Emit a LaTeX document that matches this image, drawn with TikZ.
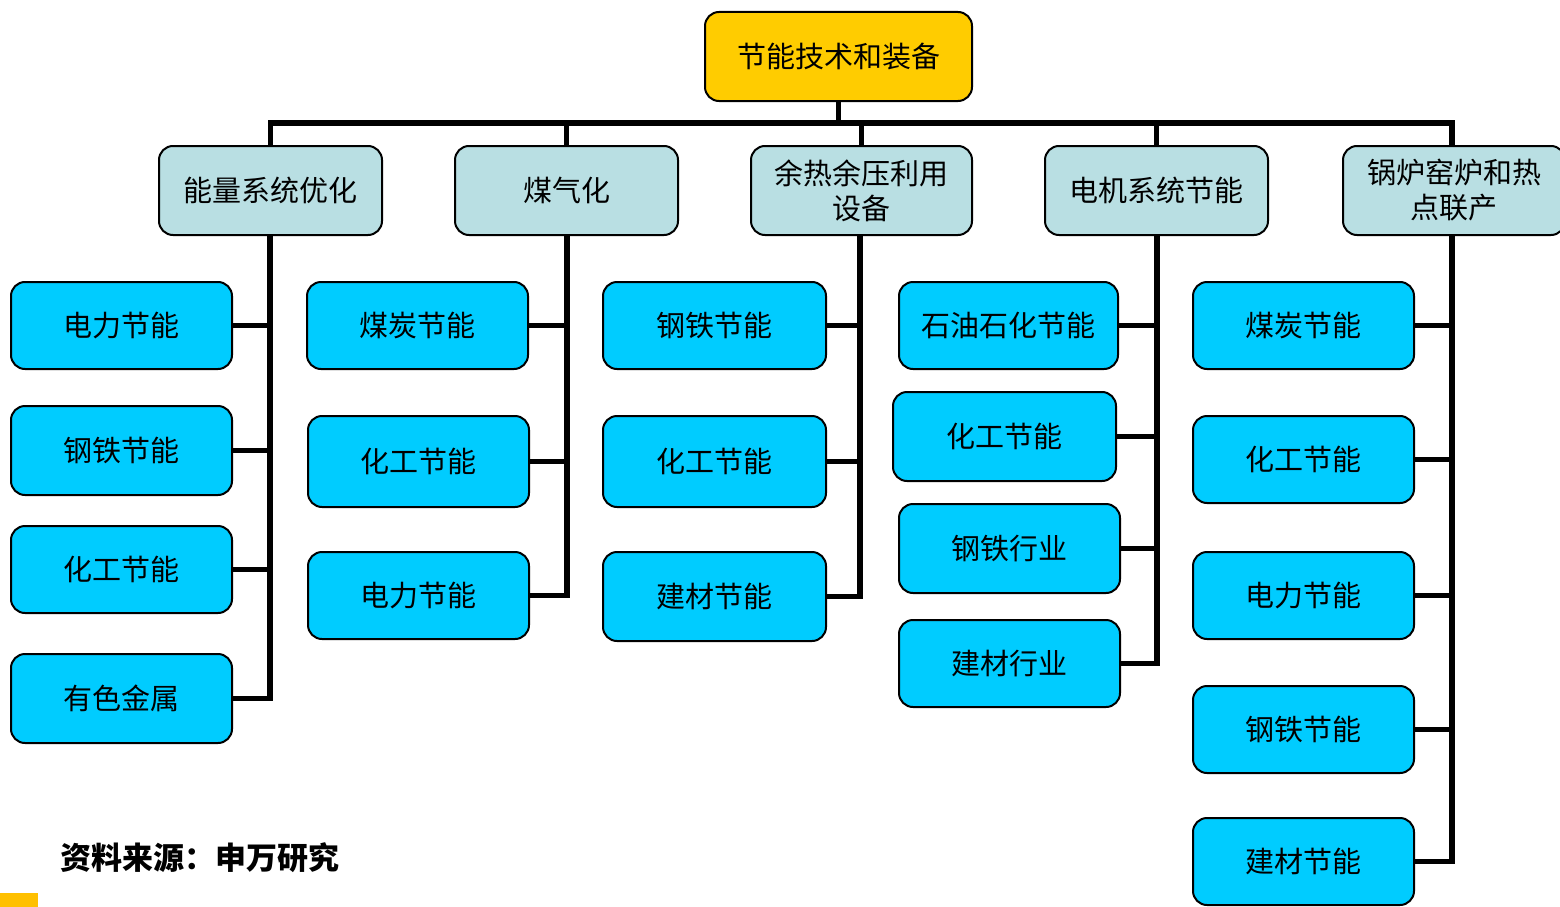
\documentclass[tikz,border=0pt]{standalone}
\usepackage{fontspec}
\setmainfont{Noto Sans CJK SC}
\definecolor{topY}{HTML}{FFCC00}
\definecolor{lvB}{HTML}{B9DFE3}
\definecolor{lvC}{HTML}{00CCFF}
\definecolor{srcY}{HTML}{FFC000}
\begin{document}
\begin{tikzpicture}[x=1pt,y=1pt,
  box/.style={draw=black,line width=2pt,rounded corners=14pt,inner sep=0pt,
    font=\fontsize{29}{35}\selectfont,align=center,text=black},
  topbox/.style={box,fill=topY,minimum width=267pt,minimum height=89pt},
  lvtwo/.style={box,fill=lvB,minimum width=223pt,minimum height=89pt},
  lvthree/.style={box,fill=lvC,minimum width=221pt,minimum height=87pt},
  bus/.style={draw=black,line width=5.5pt,line join=miter}]
\useasboundingbox (0,0) rectangle (1560,-907);
% top
\node[topbox] (top) at (838.5,-56.5) {节能技术和装备};
% level 2
\node[lvtwo] (a) at (270.5,-190.5) {能量系统优化};
\node[lvtwo] (b) at (566.5,-190.5) {煤气化};
\node[lvtwo,minimum width=221pt] (c) at (861.5,-190.5) {余热余压利用\\设备};
\node[lvtwo] (d) at (1156.5,-190.5) {电机系统节能};
\node[lvtwo,minimum width=222pt] (e) at (1454,-190.5) {锅炉窑炉和热\\点联产};
% column 1
\node[lvthree] (a1) at (121.5,-325.5) {电力节能};
\node[lvthree,minimum height=89pt] (a2) at (121.5,-450.5) {钢铁节能};
\node[lvthree] (a3) at (121.5,-569.5) {化工节能};
\node[lvthree,minimum height=89pt] (a4) at (121.5,-698.5) {有色金属};
% column 2
\node[lvthree] (b1) at (417.5,-325.5) {煤炭节能};
\node[lvthree,minimum height=91pt] (b2) at (418.5,-461.5) {化工节能};
\node[lvthree] (b3) at (418.5,-595.5) {电力节能};
% column 3
\node[lvthree,minimum width=223pt] (c1) at (714.5,-325.5) {钢铁节能};
\node[lvthree,minimum width=223pt,minimum height=91pt] (c2) at (714.5,-461.5) {化工节能};
\node[lvthree,minimum width=223pt,minimum height=89pt] (c3) at (714.5,-596.5) {建材节能};
% column 4
\node[lvthree,minimum width=219pt] (d1) at (1008.5,-325.5) {石油石化节能};
\node[lvthree,minimum width=223pt,minimum height=89pt] (d2) at (1004.5,-436.5) {化工节能};
\node[lvthree,minimum height=89pt] (d3) at (1009.5,-548.5) {钢铁行业};
\node[lvthree] (d4) at (1009.5,-663.5) {建材行业};
% column 5
\node[lvthree] (e1) at (1303.5,-325.5) {煤炭节能};
\node[lvthree] (e2) at (1303.5,-459.5) {化工节能};
\node[lvthree] (e3) at (1303.5,-595.5) {电力节能};
\node[lvthree] (e4) at (1303.5,-729.5) {钢铁节能};
\node[lvthree] (e5) at (1303.5,-861.5) {建材节能};
% bus
\coordinate (busy) at (0,-123);
\coordinate (ea) at (1452,-146);
\coordinate (sa) at (270,-235);
\coordinate (sb) at (567,-235);
\coordinate (sc) at (860,-235);
\coordinate (sd) at (1157,-235);
\coordinate (se) at (1452,-235);
\draw[bus] (top.south) -- (top.south |- busy);
\draw[bus] (a.north) -- (a.north |- busy) -- (ea |- busy) -- (ea);
\draw[bus] (b.north) -- (b.north |- busy);
\draw[bus] (c.north) -- (c.north |- busy);
\draw[bus] (d.north) -- (d.north |- busy);
% spines
\draw[bus] (sa) |- (a4.east);
\draw[bus] (a1.east) -- (a1.east -| sa);
\draw[bus] (a2.east) -- (a2.east -| sa);
\draw[bus] (a3.east) -- (a3.east -| sa);
\draw[bus] (sb) |- (b3.east);
\draw[bus] (b1.east) -- (b1.east -| sb);
\draw[bus] (b2.east) -- (b2.east -| sb);
\draw[bus] (sc) |- (c3.east);
\draw[bus] (c1.east) -- (c1.east -| sc);
\draw[bus] (c2.east) -- (c2.east -| sc);
\draw[bus] (sd) |- (d4.east);
\draw[bus] (d1.east) -- (d1.east -| sd);
\draw[bus] (d2.east) -- (d2.east -| sd);
\draw[bus] (d3.east) -- (d3.east -| sd);
\draw[bus] (se) |- (e5.east);
\draw[bus] (e1.east) -- (e1.east -| se);
\draw[bus] (e2.east) -- (e2.east -| se);
\draw[bus] (e3.east) -- (e3.east -| se);
\draw[bus] (e4.east) -- (e4.east -| se);
% source
\node[anchor=west,inner sep=0pt,font=\fontsize{31}{34}\selectfont\bfseries] (src) at (60,-858) {资料来源：申万研究};
\fill[srcY] (0,-893) rectangle (38,-907);
\end{tikzpicture}
\end{document}
